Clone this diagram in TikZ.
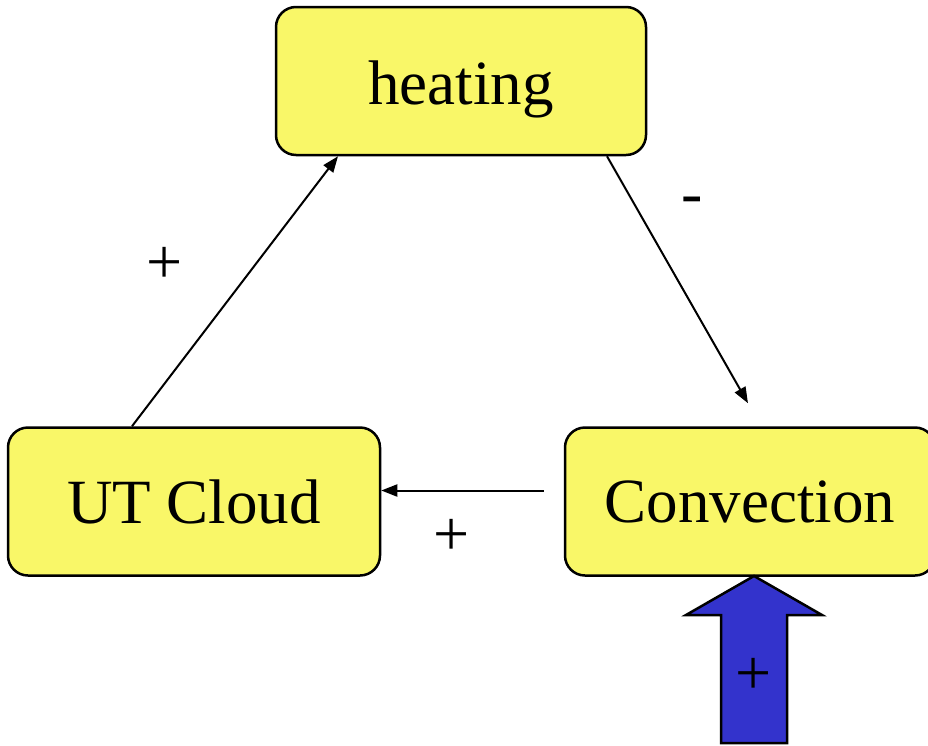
\documentclass[tikz,border=0pt]{standalone}
\usepackage{fontspec}
\setmainfont{Liberation Serif}
\setsansfont{Liberation Sans}
\usetikzlibrary{arrows.meta}
\definecolor{boxyellow}{RGB}{249,247,104}
\definecolor{pushblue}{RGB}{51,51,204}
\tikzstyle{quantity} = [rectangle, rounded corners=20pt, minimum width=370pt, minimum height=148pt, text centered, text depth=0pt, line width=2.5pt, draw=black, fill=boxyellow, font=\fontsize{63}{70}\selectfont]
\tikzstyle{sign} = [inner sep=0pt, font=\fontsize{64}{70}\selectfont]
\tikzstyle{arrow} = [line width=2pt,-{Triangle[length=16pt,width=12pt]}]

\begin{document}
\begin{tikzpicture}[x=1pt, y=-1pt]
		\useasboundingbox (0,0) rectangle (928,745);
		
		\node (heating) [quantity] at (461,81) {\raisebox{-3pt}{heating}};
		\node (cloud) [quantity, minimum width=372pt] at (194,501.5) {UT Cloud};
		\node (conv) [quantity] at (750,501.5) {Convection};
		
		\draw [arrow] ([xshift=-62pt]cloud.north) -- ([xshift=-123pt]heating.south);
		\draw [arrow] ([xshift=146pt]heating.south) -- ([xshift=-2pt,yshift=23pt]conv.north);
		\draw [arrow] ([xshift=-20pt,yshift=11pt]conv.west) -- ([yshift=11pt]cloud.east);
		
		\node (plusleft) [sign] at (165,265) {+};
		\node (minus) [sign] at (692,206) {-};
		\node (plusbottom) [sign] at (452,537) {+};
		
		% external forcing on convection
		\draw [line width=2.5pt, fill=pushblue] (754,576) -- (822,615) -- (787,615) -- (787,743) -- (721,743) -- (721,615) -- (686,615) -- cycle;
		\node (pushsign) [sign] at (754,676) {+};
		
	\end{tikzpicture}
\end{document}
